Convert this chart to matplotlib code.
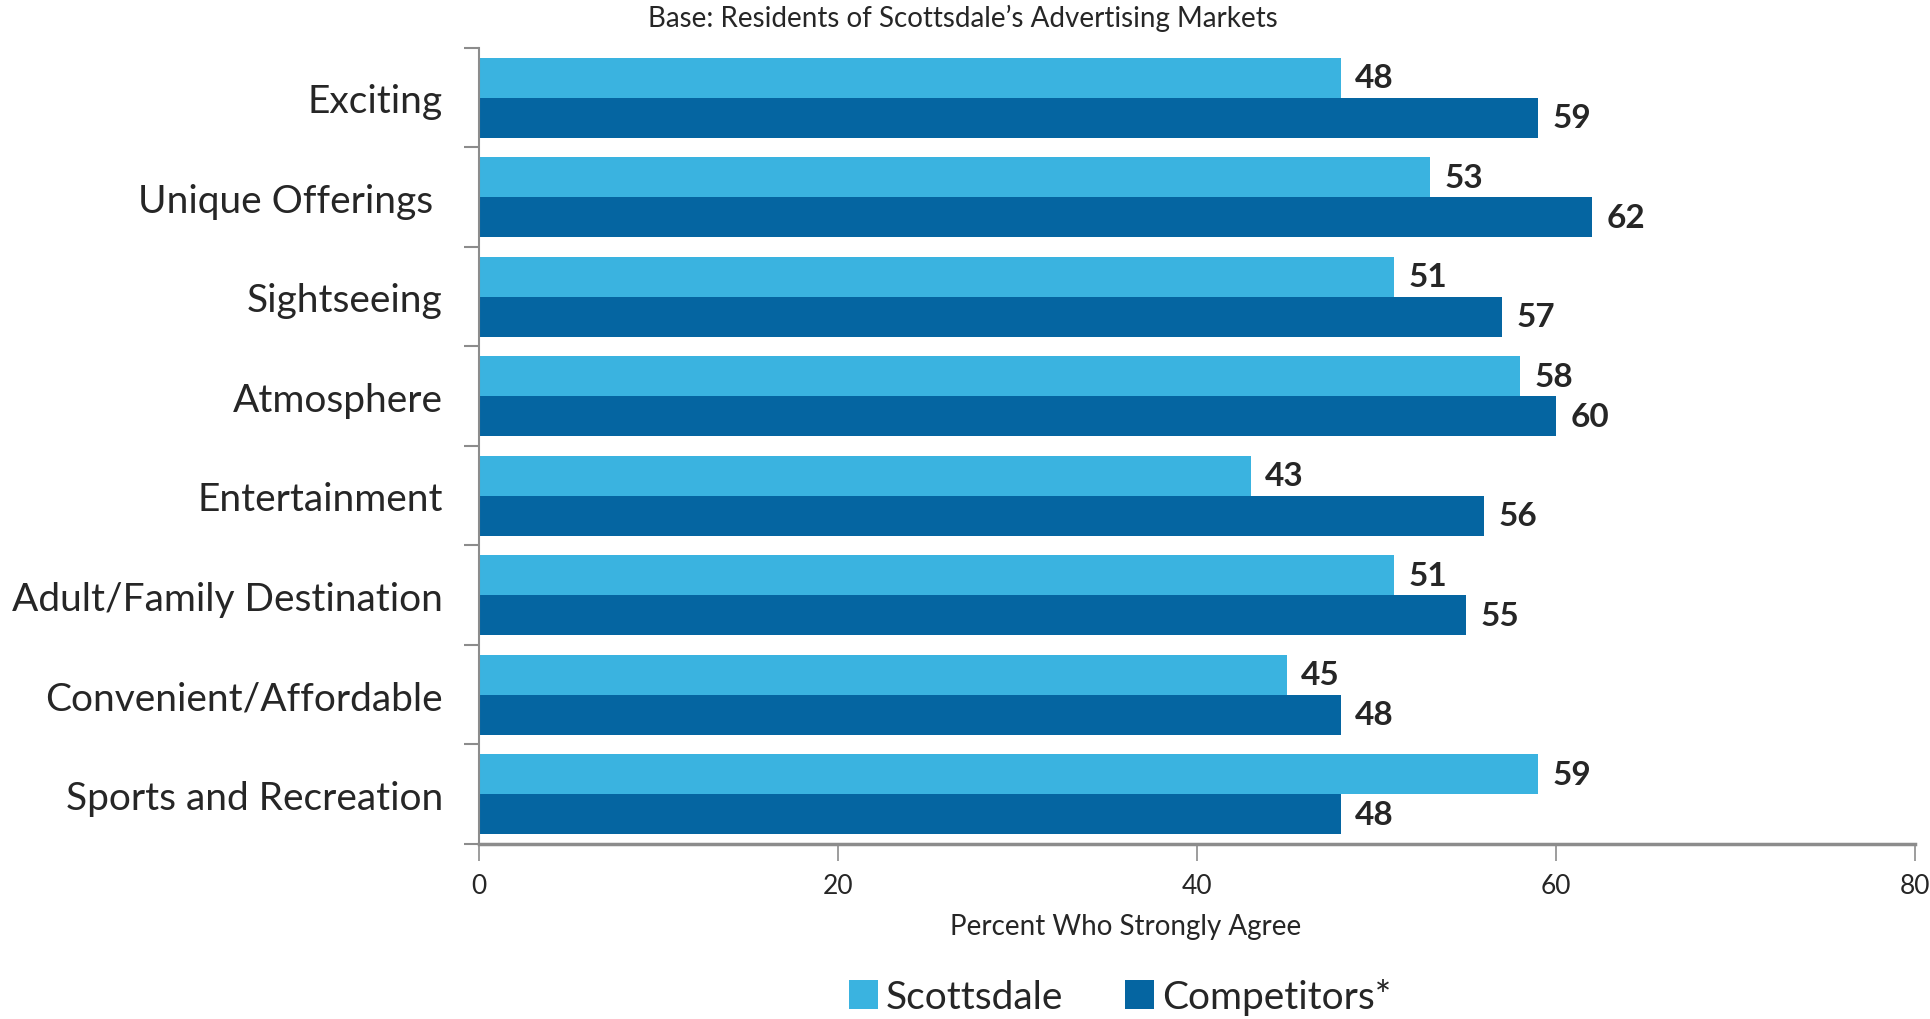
import matplotlib.pyplot as plt
import numpy as np

# -----------------------------
# Data
# -----------------------------
categories = ['Exciting', 'Unique Offerings ', 'Sightseeing', 'Atmosphere',
              'Entertainment', 'Adult/Family Destination', 'Convenient/Affordable',
              'Sports and Recreation']
scottsdale = [48, 53, 51, 58, 43, 51, 45, 59]
competitors = [59, 62, 57, 60, 56, 55, 48, 48]
series_names = ['Scottsdale', 'Competitors*']
x_ticks = [0, 20, 40, 60, 80]

light_blue = '#3AB3E0'
dark_blue = '#0565A1'
axis_gray = '#8C8C8C'
text_color = '#262626'

plt.rcParams['font.family'] = ['Lato', 'DejaVu Sans']

fig = plt.figure(figsize=(19.31, 10.20), dpi=100)
ax = fig.add_axes([0.248, 0.1716, 0.7437, 0.7804])

y = np.arange(len(categories))
h = 0.4
ax.barh(y - h / 2, scottsdale, height=h, color=light_blue, label=series_names[0])
ax.barh(y + h / 2, competitors, height=h, color=dark_blue, label=series_names[1])

for i in range(len(categories)):
    ax.text(scottsdale[i] + 0.8, y[i] - h / 2, str(scottsdale[i]), va='center', ha='left',
            fontsize=24, fontweight='bold', color=text_color)
    ax.text(competitors[i] + 0.8, y[i] + h / 2, str(competitors[i]), va='center', ha='left',
            fontsize=24, fontweight='bold', color=text_color)

ax.set_ylim(len(categories) - 0.5, -0.5)
ax.set_xlim(0, 80)
ax.set_xticks(x_ticks)
ax.set_xticklabels([str(t) for t in x_ticks], fontsize=19, color=text_color)

ax.set_yticks(y)
ax.set_yticklabels(categories, fontsize=28, color=text_color)
ax.set_yticks(np.arange(-0.5, len(categories)), minor=True)
ax.tick_params(axis='y', which='major', length=0, pad=26)
ax.tick_params(axis='y', which='minor', length=11, width=1.5, color=axis_gray, direction='out')
ax.tick_params(axis='x', length=12, width=1.2, color=axis_gray, pad=9)

for side in ['top', 'right']:
    ax.spines[side].set_visible(False)
ax.spines['left'].set_color(axis_gray)
ax.spines['left'].set_linewidth(1.5)
ax.spines['bottom'].set_color(axis_gray)
ax.spines['bottom'].set_linewidth(2.5)

fig.text(0.4985, 0.982, "Base: Residents of Scottsdale\u2019s Advertising Markets", ha='center', va='center',
         fontsize=20, color=text_color)
fig.text(0.583, 0.091, 'Percent Who Strongly Agree', ha='center', va='center',
         fontsize=20, color=text_color)

fig.legend(loc='center', bbox_to_anchor=(0.58, 0.022), ncol=2, frameon=False, fontsize=28,
           handlelength=0.75, handleheight=0.75, handletextpad=0.2, columnspacing=1.6,
           labelcolor=text_color)

fig.savefig('out.png', dpi=100)
